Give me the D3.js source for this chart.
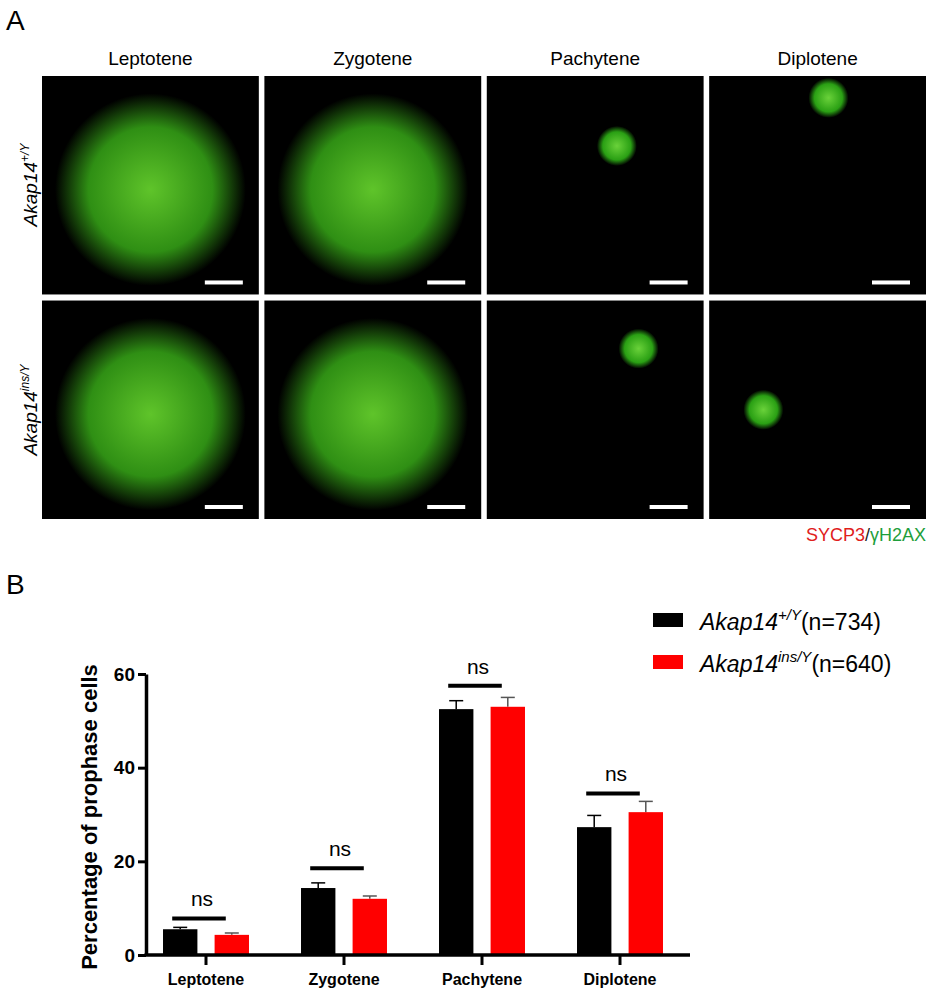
<!DOCTYPE html>
<html><head><meta charset="utf-8">
<script src="https://cdn.jsdelivr.net/npm/d3@7"></script>
<style>body{margin:0;background:#fff}text{font-family:"Liberation Sans",Arial,sans-serif}</style>
</head><body><svg id="c" width="930" height="1000"></svg>
<script>
const stages = ["Leptotene","Zygotene","Pachytene","Diplotene"];
const wtMean = [5.5,14.3,52.5,27.3];
const wtErr = [0.4,1.1,1.8,2.5];
const insMean = [4.3,12.0,53.0,30.5];
const insErr = [0.4,0.6,2.0,2.3];
const nsLevel = [7.8,18.5,57.5,34.5];
const yTicks = [0,20,40,60];

const svg = d3.select("#c");
svg.append("text").attr("x",6).attr("y",30).attr("font-size",28).text("A");
const defs = svg.append("defs");
const g1 = defs.append("radialGradient").attr("id","gl");
g1.append("stop").attr("offset","0%").attr("stop-color","#5fc42a");
g1.append("stop").attr("offset","65%").attr("stop-color","#2f8f14");
g1.append("stop").attr("offset","100%").attr("stop-color","#000");
const g2 = defs.append("radialGradient").attr("id","gs");
g2.append("stop").attr("offset","0%").attr("stop-color","#6ad23a");
g2.append("stop").attr("offset","70%").attr("stop-color","#2aa014");
g2.append("stop").attr("offset","100%").attr("stop-color","#000");
const colX = d3.scaleBand().domain(stages).range([42,926]).paddingInner(0.025);
const rowY = d3.scaleBand().domain(["wt","ins"]).range([76,519]).paddingInner(0.027);
stages.forEach((s,i)=>{
  svg.append("text").attr("x",colX(s)+colX.bandwidth()/2).attr("y",65).attr("text-anchor","middle").attr("font-size",19).text(s);
  ["wt","ins"].forEach((r,j)=>{
    const x=colX(s), y=rowY(r), w=colX.bandwidth(), h=rowY.bandwidth();
    svg.append("rect").attr("x",x).attr("y",y).attr("width",w).attr("height",h).attr("fill","#000");
    if(i<2){
      svg.append("ellipse").attr("cx",x+w*0.5).attr("cy",y+h*0.52).attr("rx",w*0.44).attr("ry",h*0.44).attr("fill","url(#gl)");
    } else {
      const cx = i===2 ? x+w*(j?0.7:0.6) : x+w*(j?0.25:0.55);
      const cy = i===2 ? y+h*(j?0.22:0.32) : y+h*(j?0.5:0.1);
      svg.append("circle").attr("cx",cx).attr("cy",cy).attr("r",20).attr("fill","url(#gs)");
    }
    svg.append("rect").attr("x",x+w-54).attr("y",y+h-14).attr("width",38).attr("height",4).attr("fill","#fff");
  });
});
svg.append("text").attr("transform","translate(37,185) rotate(-90)").attr("text-anchor","middle").attr("font-size",19).attr("font-style","italic")
  .html('Akap14<tspan dy="-8" font-size="12">+/Y</tspan>');
svg.append("text").attr("transform","translate(37,410) rotate(-90)").attr("text-anchor","middle").attr("font-size",19).attr("font-style","italic")
  .html('Akap14<tspan dy="-8" font-size="12">ins/Y</tspan>');
svg.append("text").attr("x",926).attr("y",541).attr("text-anchor","end").attr("font-size",18)
  .html('<tspan fill="#e0201b">SYCP3</tspan><tspan fill="#222">/</tspan><tspan fill="#1e9e3a">γH2AX</tspan>');

svg.append("text").attr("x",6).attr("y",594).attr("font-size",28).text("B");
const y = d3.scaleLinear().domain([0,60]).range([955,674]);
const x = d3.scaleBand().domain(stages).range([137,689]).paddingInner(0.377).paddingOuter(0.1885);
const bw = x.bandwidth();
const barW = bw*0.4;
const chart = svg.append("g");
stages.forEach((s,i)=>{
  const xb = x(s), xr = x(s)+bw-barW;
  [[xb,wtMean[i],wtErr[i],"#000"],[xr,insMean[i],insErr[i],"#ff0000"]].forEach(([bx,m,e,c])=>{
    const cx = bx+barW/2, ec = c==="#000"?"#000":"#555";
    chart.append("line").attr("x1",cx).attr("x2",cx).attr("y1",y(m)).attr("y2",y(m+e)).attr("stroke",ec).attr("stroke-width",1.5);
    chart.append("line").attr("x1",cx-7).attr("x2",cx+7).attr("y1",y(m+e)).attr("y2",y(m+e)).attr("stroke",ec).attr("stroke-width",1.5);
    chart.append("rect").attr("x",bx).attr("y",y(m)).attr("width",barW).attr("height",y(0)-y(m)).attr("fill",c);
  });
  chart.append("line").attr("x1",xb+barW/2-8).attr("x2",xr+barW/2-6).attr("y1",y(nsLevel[i])).attr("y2",y(nsLevel[i])).attr("stroke","#000").attr("stroke-width",4);
  chart.append("text").attr("x",x(s)+bw/2-4).attr("y",y(nsLevel[i])-12).attr("text-anchor","middle").attr("font-size",21).text("ns");
});
const ya = svg.append("g").attr("transform","translate(146,0)").call(d3.axisLeft(y).tickValues(yTicks).tickSize(8).tickSizeOuter(0));
ya.select(".domain").attr("stroke-width",3.5);
ya.selectAll(".tick line").attr("stroke-width",3);
ya.selectAll("text").attr("font-size",19).attr("font-weight","bold").attr("font-family","Liberation Sans Narrow, Liberation Sans");
const xa = svg.append("g").attr("transform","translate(0,955)").call(d3.axisBottom(x).tickSize(10).tickSizeOuter(0));
xa.select(".domain").attr("stroke-width",3.5).attr("d","M144.5,0H690");
xa.selectAll(".tick line").attr("stroke-width",3);
xa.selectAll("text").attr("font-size",16).attr("font-weight","bold").attr("dy","1.05em").attr("font-family","Liberation Sans Narrow, Liberation Sans");
svg.append("text").attr("transform","translate(97,817) rotate(-90)").attr("text-anchor","middle").attr("font-size",22).attr("font-weight","bold").text("Percentage of prophase cells");

const legend = [["#000","+/Y","(n=734)"],["#ff0000","ins/Y","(n=640)"]];
legend.forEach((l,i)=>{
  const ly = 620+i*42;
  svg.append("rect").attr("x",653).attr("y",ly-7).attr("width",30).attr("height",14).attr("fill",l[0]);
  const t = svg.append("text").attr("y",ly+10).attr("font-size",23);
  t.append("tspan").attr("x",700).attr("font-style","italic").text("Akap14");
  t.append("tspan").attr("font-style","italic").attr("dy",-10).attr("font-size",15).text(l[1]);
  t.append("tspan").attr("dy",10).text(l[2]);
});
</script></body></html>
